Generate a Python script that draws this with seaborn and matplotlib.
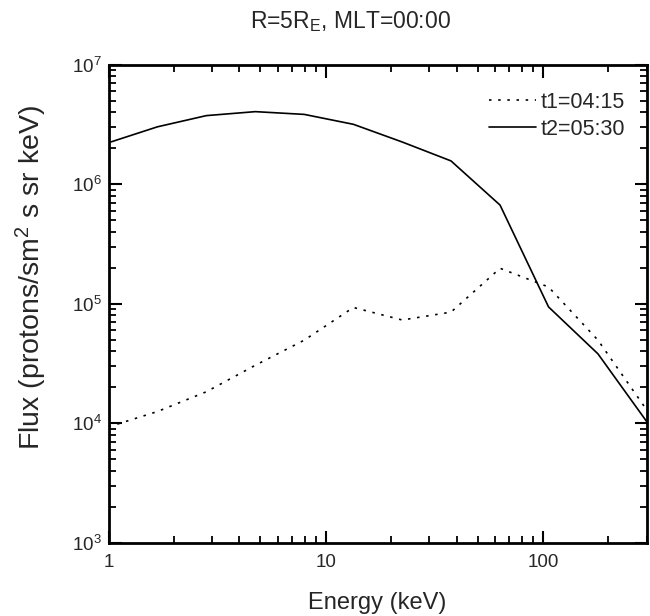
import matplotlib
matplotlib.use("Agg")
import matplotlib.pyplot as plt
import matplotlib.ticker as mticker
import seaborn as sns
import pandas as pd

# Data
energy = [1.0, 1.68, 2.82, 4.74, 7.96, 13.4, 22.5, 37.7, 63.4, 106, 179, 300]
flux_t1 = [9.3e3, 1.25e4, 1.83e4, 3.05e4, 4.95e4, 9.3e4, 7.3e4, 8.5e4, 1.98e5, 1.38e5, 4.95e4, 1.29e4]
flux_t2 = [2.23e6, 3.03e6, 3.76e6, 4.06e6, 3.85e6, 3.18e6, 2.26e6, 1.57e6, 6.7e5, 9.4e4, 3.8e4, 1.03e4]
series_names = ["t1=04:15", "t2=05:30"]
x_ticks = [1, 10, 100]
x_tick_labels = ["1", "10", "100"]
y_ticks = [1e3, 1e4, 1e5, 1e6, 1e7]
y_tick_labels = [r"$10^{3}$", r"$10^{4}$", r"$10^{5}$", r"$10^{6}$", r"$10^{7}$"]

df = pd.DataFrame({
    "Energy": energy + energy,
    "Flux": flux_t1 + flux_t2,
    "series": [series_names[0]] * len(energy) + [series_names[1]] * len(energy),
})

sns.set_style("ticks")
plt.rcParams["font.family"] = ["Liberation Sans", "DejaVu Sans"]
plt.rcParams["mathtext.fontset"] = "custom"
plt.rcParams["mathtext.rm"] = "Liberation Sans"
plt.rcParams["mathtext.it"] = "Liberation Sans:italic"
plt.rcParams["mathtext.default"] = "regular"

fig = plt.figure(figsize=(6.5, 6.16), dpi=100)
ax = fig.add_axes([108.5 / 650, (616 - 542.5) / 616, (646.7 - 108.5) / 650, (542.5 - 64.9) / 616])

sns.lineplot(data=df, x="Energy", y="Flux", style="series",
             dashes={series_names[0]: (1.5, 4), series_names[1]: ""},
             color="black", linewidth=1.2, ax=ax, legend=True)

ax.set_xscale("log")
ax.set_yscale("log")
ax.set_xlim(1, 300)
ax.set_ylim(1e3, 1e7)

ax.set_xticks(x_ticks)
ax.set_xticklabels(x_tick_labels)
ax.set_yticks(y_ticks)
ax.set_yticklabels(y_tick_labels)
ax.xaxis.set_minor_locator(mticker.LogLocator(base=10, subs=range(2, 10), numticks=20))
ax.yaxis.set_minor_locator(mticker.LogLocator(base=10, subs=range(2, 10), numticks=20))
ax.xaxis.set_minor_formatter(mticker.NullFormatter())
ax.yaxis.set_minor_formatter(mticker.NullFormatter())

ax.tick_params(which="both", direction="in", top=True, right=True, color="black")
ax.tick_params(which="major", length=9, width=1.5, labelsize=13.5)
ax.tick_params(which="minor", length=5, width=1.3)
ax.tick_params(axis="x", which="major", pad=8)
ax.tick_params(axis="y", which="major", pad=5)
for s in ax.spines.values():
    s.set_linewidth(2)
    s.set_color("black")

ax.set_xlabel("")
ax.set_ylabel("")
fig.text(377 / 650, 1 - 603 / 616, "Energy (keV)", ha="center", va="center", fontsize=17)
fig.text(31 / 650, 1 - 278 / 616, r"Flux (protons/sm$^{2}$ s sr keV)", ha="center", va="center",
         rotation=90, fontsize=20.5)
fig.text(350 / 650, 1 - 22 / 616, r"R=5R$_{E}$, MLT=00:00", ha="center", va="center", fontsize=16.5)

leg = ax.legend(frameon=False, loc="upper right", fontsize=15.5, handlelength=2.2,
                handletextpad=0.2, borderaxespad=0, borderpad=0.4, labelspacing=0.3,
                bbox_to_anchor=(1 - 13 / 538, 1 - 18 / 477.6))
for line in leg.get_lines():
    line.set_color("black")
    line.set_linewidth(1.2)

fig.savefig("out.png", dpi=100)
